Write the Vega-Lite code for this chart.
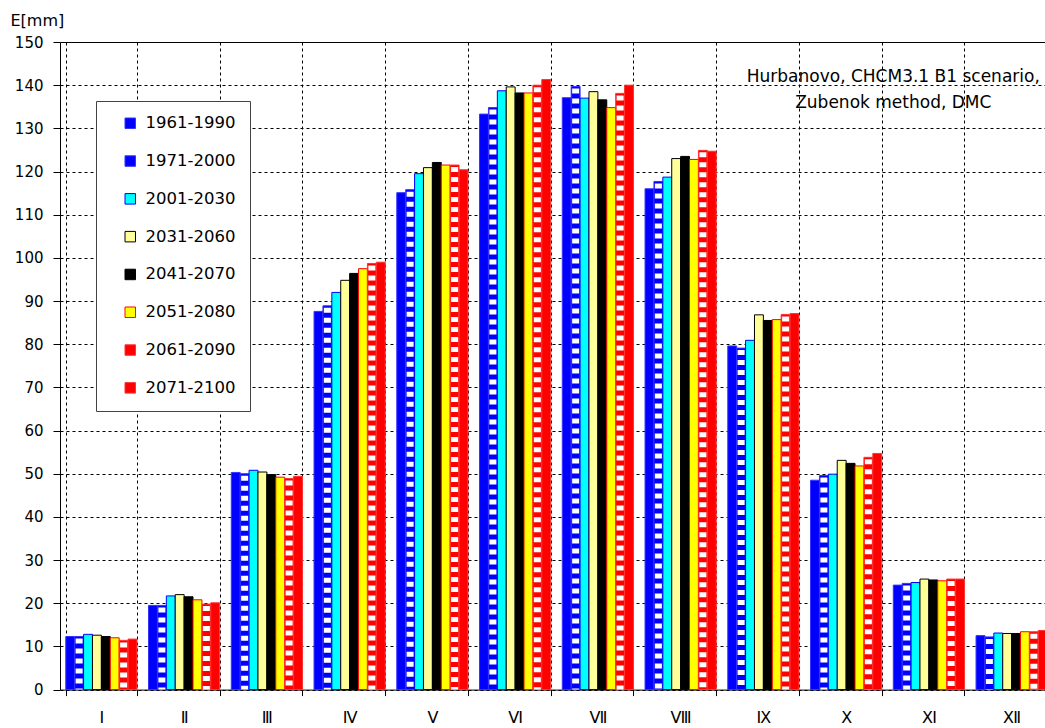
{
  "$schema": "https://vega.github.io/schema/vega-lite/v6.json",
  "width": 985,
  "height": 647.6,
  "autosize": {"type": "none"},
  "padding": {"left": 60, "top": 42, "right": 0, "bottom": 38.4},
  "background": "white",
  "config": {
    "view": {"stroke": null},
    "font": "DejaVu Sans",
    "axis": {"labelFont": "DejaVu Sans", "titleFont": "DejaVu Sans", "labelColor": "#000", "titleColor": "#000"}
  },
  "data": {"values": [
    {"month": "Ⅰ", "period": "1961-1990", "value": 12.3},
    {"month": "Ⅰ", "period": "1971-2000", "value": 12.3},
    {"month": "Ⅰ", "period": "2001-2030", "value": 12.8},
    {"month": "Ⅰ", "period": "2031-2060", "value": 12.6},
    {"month": "Ⅰ", "period": "2041-2070", "value": 12.3},
    {"month": "Ⅰ", "period": "2051-2080", "value": 12.0},
    {"month": "Ⅰ", "period": "2061-2090", "value": 11.4},
    {"month": "Ⅰ", "period": "2071-2100", "value": 11.7},
    {"month": "Ⅱ", "period": "1961-1990", "value": 19.5},
    {"month": "Ⅱ", "period": "1971-2000", "value": 19.5},
    {"month": "Ⅱ", "period": "2001-2030", "value": 21.7},
    {"month": "Ⅱ", "period": "2031-2060", "value": 22.0},
    {"month": "Ⅱ", "period": "2041-2070", "value": 21.5},
    {"month": "Ⅱ", "period": "2051-2080", "value": 20.8},
    {"month": "Ⅱ", "period": "2061-2090", "value": 19.8},
    {"month": "Ⅱ", "period": "2071-2100", "value": 20.1},
    {"month": "Ⅲ", "period": "1961-1990", "value": 50.3},
    {"month": "Ⅲ", "period": "1971-2000", "value": 50.0},
    {"month": "Ⅲ", "period": "2001-2030", "value": 50.8},
    {"month": "Ⅲ", "period": "2031-2060", "value": 50.4},
    {"month": "Ⅲ", "period": "2041-2070", "value": 49.8},
    {"month": "Ⅲ", "period": "2051-2080", "value": 49.2},
    {"month": "Ⅲ", "period": "2061-2090", "value": 48.9},
    {"month": "Ⅲ", "period": "2071-2100", "value": 49.4},
    {"month": "Ⅳ", "period": "1961-1990", "value": 87.6},
    {"month": "Ⅳ", "period": "1971-2000", "value": 88.9},
    {"month": "Ⅳ", "period": "2001-2030", "value": 92.0},
    {"month": "Ⅳ", "period": "2031-2060", "value": 94.8},
    {"month": "Ⅳ", "period": "2041-2070", "value": 96.4},
    {"month": "Ⅳ", "period": "2051-2080", "value": 97.5},
    {"month": "Ⅳ", "period": "2061-2090", "value": 98.7},
    {"month": "Ⅳ", "period": "2071-2100", "value": 99.0},
    {"month": "Ⅴ", "period": "1961-1990", "value": 115.1},
    {"month": "Ⅴ", "period": "1971-2000", "value": 115.8},
    {"month": "Ⅴ", "period": "2001-2030", "value": 119.5},
    {"month": "Ⅴ", "period": "2031-2060", "value": 120.9},
    {"month": "Ⅴ", "period": "2041-2070", "value": 122.1},
    {"month": "Ⅴ", "period": "2051-2080", "value": 121.5},
    {"month": "Ⅴ", "period": "2061-2090", "value": 121.5},
    {"month": "Ⅴ", "period": "2071-2100", "value": 120.4},
    {"month": "Ⅵ", "period": "1961-1990", "value": 133.3},
    {"month": "Ⅵ", "period": "1971-2000", "value": 134.8},
    {"month": "Ⅵ", "period": "2001-2030", "value": 138.7},
    {"month": "Ⅵ", "period": "2031-2060", "value": 139.6},
    {"month": "Ⅵ", "period": "2041-2070", "value": 138.2},
    {"month": "Ⅵ", "period": "2051-2080", "value": 138.2},
    {"month": "Ⅵ", "period": "2061-2090", "value": 140.0},
    {"month": "Ⅵ", "period": "2071-2100", "value": 141.3},
    {"month": "Ⅶ", "period": "1961-1990", "value": 137.1},
    {"month": "Ⅶ", "period": "1971-2000", "value": 139.7},
    {"month": "Ⅶ", "period": "2001-2030", "value": 137.0},
    {"month": "Ⅶ", "period": "2031-2060", "value": 138.5},
    {"month": "Ⅶ", "period": "2041-2070", "value": 136.6},
    {"month": "Ⅶ", "period": "2051-2080", "value": 134.8},
    {"month": "Ⅶ", "period": "2061-2090", "value": 138.1},
    {"month": "Ⅶ", "period": "2071-2100", "value": 140.0},
    {"month": "Ⅷ", "period": "1961-1990", "value": 116.0},
    {"month": "Ⅷ", "period": "1971-2000", "value": 117.7},
    {"month": "Ⅷ", "period": "2001-2030", "value": 118.7},
    {"month": "Ⅷ", "period": "2031-2060", "value": 123.0},
    {"month": "Ⅷ", "period": "2041-2070", "value": 123.5},
    {"month": "Ⅷ", "period": "2051-2080", "value": 122.8},
    {"month": "Ⅷ", "period": "2061-2090", "value": 124.9},
    {"month": "Ⅷ", "period": "2071-2100", "value": 124.7},
    {"month": "Ⅸ", "period": "1961-1990", "value": 79.6},
    {"month": "Ⅸ", "period": "1971-2000", "value": 79.1},
    {"month": "Ⅸ", "period": "2001-2030", "value": 80.9},
    {"month": "Ⅸ", "period": "2031-2060", "value": 86.8},
    {"month": "Ⅸ", "period": "2041-2070", "value": 85.5},
    {"month": "Ⅸ", "period": "2051-2080", "value": 85.7},
    {"month": "Ⅸ", "period": "2061-2090", "value": 86.9},
    {"month": "Ⅸ", "period": "2071-2100", "value": 87.1},
    {"month": "Ⅹ", "period": "1961-1990", "value": 48.5},
    {"month": "Ⅹ", "period": "1971-2000", "value": 49.6},
    {"month": "Ⅹ", "period": "2001-2030", "value": 49.9},
    {"month": "Ⅹ", "period": "2031-2060", "value": 53.1},
    {"month": "Ⅹ", "period": "2041-2070", "value": 52.4},
    {"month": "Ⅹ", "period": "2051-2080", "value": 51.8},
    {"month": "Ⅹ", "period": "2061-2090", "value": 53.8},
    {"month": "Ⅹ", "period": "2071-2100", "value": 54.7},
    {"month": "Ⅺ", "period": "1961-1990", "value": 24.2},
    {"month": "Ⅺ", "period": "1971-2000", "value": 24.6},
    {"month": "Ⅺ", "period": "2001-2030", "value": 24.8},
    {"month": "Ⅺ", "period": "2031-2060", "value": 25.6},
    {"month": "Ⅺ", "period": "2041-2070", "value": 25.4},
    {"month": "Ⅺ", "period": "2051-2080", "value": 25.2},
    {"month": "Ⅺ", "period": "2061-2090", "value": 25.6},
    {"month": "Ⅺ", "period": "2071-2100", "value": 25.6},
    {"month": "Ⅻ", "period": "1961-1990", "value": 12.5},
    {"month": "Ⅻ", "period": "1971-2000", "value": 12.2},
    {"month": "Ⅻ", "period": "2001-2030", "value": 13.1},
    {"month": "Ⅻ", "period": "2031-2060", "value": 13.0},
    {"month": "Ⅻ", "period": "2041-2070", "value": 13.0},
    {"month": "Ⅻ", "period": "2051-2080", "value": 13.4},
    {"month": "Ⅻ", "period": "2061-2090", "value": 13.4},
    {"month": "Ⅻ", "period": "2071-2100", "value": 13.7}
  ]},
  "encoding": {
    "x": {
      "field": "month", "type": "nominal",
      "scale": {"domain": ["Ⅰ","Ⅱ","Ⅲ","Ⅳ","Ⅴ","Ⅵ","Ⅶ","Ⅷ","Ⅸ","Ⅹ","Ⅺ","Ⅻ"], "range": [0, 993], "paddingInner": 0.14, "paddingOuter": 0.07},
      "axis": {"title": null, "labelAngle": 0, "tickBand": "extent", "grid": true, "gridColor": "#000", "gridDash": [3, 3], "gridWidth": 1, "tickColor": "#000", "tickSize": 6, "domainColor": "#000", "labelFontSize": 16, "labelPadding": 14, "labelBaseline": "top"}
    }
  },
  "layer": [
    {
      "mark": {"type": "bar", "strokeWidth": 1},
      "encoding": {
        "xOffset": {"field": "period", "type": "nominal", "scale": {"paddingInner": 0, "paddingOuter": 0}},
        "y": {
          "field": "value", "type": "quantitative",
          "scale": {"domain": [0, 150], "nice": false},
          "axis": {"title": "E[mm]", "titleAngle": 0, "titleAlign": "left", "titleBaseline": "middle", "titleX": -50, "titleY": -22, "titleFontSize": 16, "titleFontWeight": "normal", "values": [0,10,20,30,40,50,60,70,80,90,100,110,120,130,140,150], "grid": true, "gridColor": "#000", "gridDash": {"condition": {"test": "datum.value === 150", "value": []}, "value": [3, 3]}, "tickColor": "#000", "tickSize": 7, "domainColor": "#000", "labelFontSize": 15, "labelPadding": 10}
        },
        "fill": {
          "field": "period", "type": "nominal",
          "scale": {"domain": ["1961-1990","1971-2000","2001-2030","2031-2060","2041-2070","2051-2080","2061-2090","2071-2100"], "range": ["#0000ff","#0000ff","#00ffff","#ffff99","#000000","#ffff00","#ff0000","#ff0000"]},
          "legend": {"title": null, "orient": "none", "legendX": 36, "legendY": 59, "direction": "vertical", "fillColor": "white", "strokeColor": "#444", "padding": 14, "symbolOffset": 12, "symbolType": "square", "symbolSize": 110, "symbolStrokeWidth": 1, "labelFont": "DejaVu Sans", "labelFontSize": 16.5, "labelColor": "#000", "labelOffset": 7, "rowPadding": 20.8}
        },
        "stroke": {
          "field": "period", "type": "nominal",
          "scale": {"domain": ["1961-1990","1971-2000","2001-2030","2031-2060","2041-2070","2051-2080","2061-2090","2071-2100"], "range": ["#3333ff","#3333ff","#0000ff","#000000","#000000","#ff0000","#ff3333","#ff3333"]},
          "legend": {"title": null, "orient": "none", "legendX": 36, "legendY": 59, "direction": "vertical", "fillColor": "white", "strokeColor": "#444", "padding": 14, "symbolOffset": 12, "symbolType": "square", "symbolSize": 110, "symbolStrokeWidth": 1, "labelFont": "DejaVu Sans", "labelFontSize": 16.5, "labelColor": "#000", "labelOffset": 7, "rowPadding": 20.8}
        }
      }
    },
    {
      "transform": [{"filter": "datum.period === '1971-2000' || datum.period === '2061-2090'"}],
      "mark": {"type": "rule", "stroke": "white", "strokeWidth": 7, "strokeDash": [5, 5], "strokeDashOffset": -2, "strokeCap": "butt"},
      "encoding": {
        "xOffset": {"field": "period", "type": "nominal"},
        "y": {"field": "value", "type": "quantitative"},
        "y2": {"datum": 0}
      }
    },
    {
      "data": {"values": [{"month": "Ⅺ", "v": 141.8, "label": "Hurbanovo, CHCM3.1 B1 scenario,\nZubenok method, DMC"}]},
      "mark": {"type": "text", "font": "DejaVu Sans", "fontSize": 17, "align": "center", "baseline": "middle", "lineBreak": "\n", "lineHeight": 26, "color": "#000"},
      "encoding": {
        "x": {"field": "month", "type": "nominal", "bandPosition": 0},
        "y": {"field": "v", "type": "quantitative"},
        "text": {"field": "label"}
      }
    }
  ]
}
